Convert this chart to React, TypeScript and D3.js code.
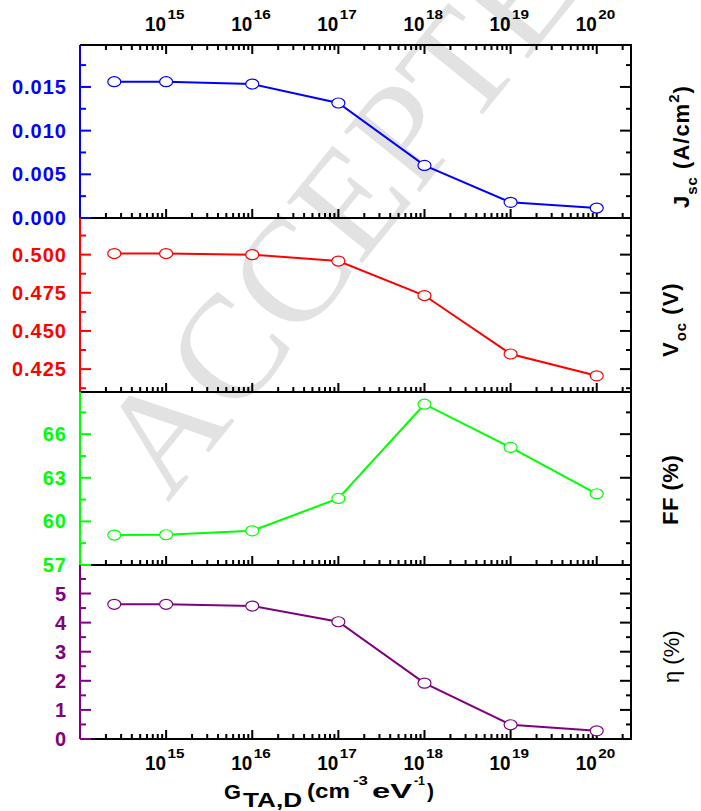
import React from 'react';
import * as d3 from 'd3';

const W = 701;
const H = 811;

// ---- data ----
const gValues = [2.5e14, 1e15, 1e16, 1e17, 1e18, 1e19, 1e20];
const jscValues = [0.0156, 0.0156, 0.01533, 0.01316, 0.00602, 0.00179, 0.00114];
const vocValues = [0.5007, 0.5007, 0.5, 0.4958, 0.4732, 0.4349, 0.4206];
const ffValues = [59.06, 59.08, 59.35, 61.58, 68.06, 65.09, 61.9];
const etaValues = [4.63, 4.63, 4.57, 4.03, 1.92, 0.49, 0.28];

const xDomain = [1e14, 2.5e20];
const jscDomain = [0, 0.0198];
const vocDomain = [0.41, 0.524];
const ffDomain = [57, 68.9];
const etaDomain = [0, 5.98];

const jscMajorTicks = [0, 0.005, 0.01, 0.015];
const jscMinorTicks = [0.0025, 0.0075, 0.0125, 0.0175];
const vocMajorTicks = [0.425, 0.45, 0.475, 0.5];
const vocMinorTicks = [0.4125, 0.4375, 0.4625, 0.4875, 0.5125];
const ffMajorTicks = [57, 60, 63, 66];
const ffMinorTicks = [58.5, 61.5, 64.5, 67.5];
const etaMajorTicks = [0, 1, 2, 3, 4, 5];
const etaMinorTicks = [0.5, 1.5, 2.5, 3.5, 4.5, 5.5];

const jscTickLabels = ['0.000', '0.005', '0.010', '0.015'];
const vocTickLabels = ['0.425', '0.450', '0.475', '0.500'];
const ffTickLabels = ['57', '60', '63', '66'];
const etaTickLabels = ['0', '1', '2', '3', '4', '5'];

const panelColors = ['#0000ff', '#ff0000', '#00ff00', '#800080'];

// ---- layout ----
const left = 80;
const right = 631;
const panelEdges = [45, 218, 392, 565, 739];
const FONT = "'Liberation Sans', Arial, Helvetica, sans-serif";

const x = d3.scaleLog().domain(xDomain).range([left, right]);
const xTicksAll = x.ticks();
const isDecade = (v: number) => Math.abs(Math.log10(v) - Math.round(Math.log10(v))) < 1e-9;
const xMajor = xTicksAll.filter((v) => isDecade(v) && x(v) > left + 1);
const xMinor = xTicksAll.filter((v) => !isDecade(v));

const panels = [
  { values: jscValues, domain: jscDomain, major: jscMajorTicks, minor: jscMinorTicks, labels: jscTickLabels },
  { values: vocValues, domain: vocDomain, major: vocMajorTicks, minor: vocMinorTicks, labels: vocTickLabels },
  { values: ffValues, domain: ffDomain, major: ffMajorTicks, minor: ffMinorTicks, labels: ffTickLabels },
  { values: etaValues, domain: etaDomain, major: etaMajorTicks, minor: etaMinorTicks, labels: etaTickLabels },
].map((p, i) => ({
  ...p,
  color: panelColors[i],
  top: panelEdges[i],
  bottom: panelEdges[i + 1],
  y: d3.scaleLinear().domain(p.domain).range([panelEdges[i + 1], panelEdges[i]]),
}));

function DecadeLabel({ v, y }: { v: number; y: number }) {
  const e = Math.round(Math.log10(v));
  const cx = x(v);
  return (
    <g fontFamily={FONT} fontWeight="bold" fill="#000">
      <text x={cx - 21} y={y} fontSize={21} textLength={21} lengthAdjust="spacingAndGlyphs">10</text>
      <text x={cx + 1.5} y={y - 12} fontSize={13} textLength={17} lengthAdjust="spacingAndGlyphs">{e}</text>
    </g>
  );
}

export default function App() {
  return (
    <svg width={W} height={H} style={{ position: 'absolute', left: 0, top: 0, background: '#fff' }}>
      <rect x={0} y={0} width={W} height={H} fill="#fff" />
      {/* watermark */}
      <text
        transform="translate(168,503) rotate(-51)"
        fontFamily="'Liberation Serif', 'Times New Roman', serif"
        fontSize={148}
        fill="#e2e2e2"
      >
        ACCEPTED
      </text>

      {panels.map((p, i) => {
        const line = d3
          .line<number>()
          .x((_, j) => x(gValues[j]))
          .y((d) => p.y(d));
        return (
          <g key={i}>
            {xMajor.map((v, k) => (
              <line key={'M' + k} x1={x(v)} x2={x(v)} y1={p.bottom} y2={p.bottom - 9} stroke="#000" strokeWidth={2} />
            ))}
            {xMinor.map((v, k) => (
              <line key={'m' + k} x1={x(v)} x2={x(v)} y1={p.bottom} y2={p.bottom - 5} stroke="#000" strokeWidth={2} />
            ))}
            {p.major.map((v, k) => (
              <line key={'rM' + k} x1={right} x2={right - 11} y1={p.y(v)} y2={p.y(v)} stroke="#000" strokeWidth={2} />
            ))}
            {p.minor.map((v, k) => (
              <line key={'rm' + k} x1={right} x2={right - 5} y1={p.y(v)} y2={p.y(v)} stroke="#000" strokeWidth={2} />
            ))}
            <path d={line(p.values) || ''} fill="none" stroke={p.color} strokeWidth={2} />
          </g>
        );
      })}

      {xMajor.map((v, k) => (
        <line key={'tM' + k} x1={x(v)} x2={x(v)} y1={panelEdges[0]} y2={panelEdges[0] + 9} stroke="#000" strokeWidth={2} />
      ))}
      {xMinor.map((v, k) => (
        <line key={'tm' + k} x1={x(v)} x2={x(v)} y1={panelEdges[0]} y2={panelEdges[0] + 5} stroke="#000" strokeWidth={2} />
      ))}

      {panelEdges.map((e, k) => (
        <line key={'h' + k} x1={left} x2={right + 1} y1={e} y2={e} stroke="#000" strokeWidth={2} />
      ))}
      <line x1={right} x2={right} y1={panelEdges[0] - 1} y2={panelEdges[4] + 1} stroke="#000" strokeWidth={2} />

      {panels.map((p, i) => (
        <g key={'l' + i}>
          <line x1={left} x2={left} y1={p.top} y2={p.bottom} stroke={p.color} strokeWidth={2} />
          {p.major.map((v, k) => (
            <g key={'lM' + k}>
              <line x1={left} x2={left + 11} y1={p.y(v)} y2={p.y(v)} stroke={p.color} strokeWidth={2} />
              <text
                x={67}
                y={p.y(v) + 7}
                textAnchor="end"
                fontFamily={FONT}
                fontWeight="bold"
                fontSize={20}
                letterSpacing={1}
                fill={p.color}
              >
                {p.labels[k]}
              </text>
            </g>
          ))}
          {p.minor.map((v, k) => (
            <line key={'lm' + k} x1={left} x2={left + 6} y1={p.y(v)} y2={p.y(v)} stroke={p.color} strokeWidth={2} />
          ))}
          {p.values.map((v, j) => (
            <ellipse key={'c' + j} cx={x(gValues[j])} cy={p.y(v)} rx={6.5} ry={5} fill="#fff" stroke={p.color} strokeWidth={1.2} />
          ))}
        </g>
      ))}

      {xMajor.map((v, k) => (
        <DecadeLabel key={'td' + k} v={v} y={31} />
      ))}
      {xMajor.map((v, k) => (
        <DecadeLabel key={'bd' + k} v={v} y={770} />
      ))}

      {/* right-side axis titles */}
      <text transform="translate(689,208) rotate(-90)" fontFamily={FONT} fontWeight="bold" fontSize={22} letterSpacing={1} fill="#000">
        J<tspan dy={8} fontSize={15}>sc</tspan>
        <tspan dy={-8}> (A/cm</tspan>
        <tspan dy={-10} fontSize={15}>2</tspan>
        <tspan dy={10}>)</tspan>
      </text>
      <text transform="translate(678,357) rotate(-90)" fontFamily={FONT} fontWeight="bold" fontSize={22} letterSpacing={1} fill="#000">
        V<tspan dy={8} fontSize={15}>oc</tspan>
        <tspan dy={-8}> (V)</tspan>
      </text>
      <text transform="translate(678,525) rotate(-90)" fontFamily={FONT} fontWeight="bold" fontSize={22} letterSpacing={0.5} fill="#000">
        FF (%)
      </text>
      <text transform="translate(679,683) rotate(-90)" fontFamily={FONT} fontSize={22} fill="#000">
        η (%)
      </text>

      {/* bottom title */}
      <g fontFamily={FONT} fontWeight="bold" fill="#000">
        <text x={224} y={799} fontSize={21} textLength={17} lengthAdjust="spacingAndGlyphs">G</text>
        <text x={243} y={807} fontSize={21} textLength={59} lengthAdjust="spacingAndGlyphs">TA,D</text>
        <text x={307} y={798} fontSize={21} textLength={43} lengthAdjust="spacingAndGlyphs">(cm</text>
        <text x={353} y={785} fontSize={13} textLength={15} lengthAdjust="spacingAndGlyphs">-3</text>
        <text x={372} y={798} fontSize={21} textLength={40} lengthAdjust="spacingAndGlyphs">eV</text>
        <text x={414} y={785} fontSize={13} textLength={11} lengthAdjust="spacingAndGlyphs">-1</text>
        <text x={427} y={798} fontSize={21}>)</text>
      </g>
    </svg>
  );
}
